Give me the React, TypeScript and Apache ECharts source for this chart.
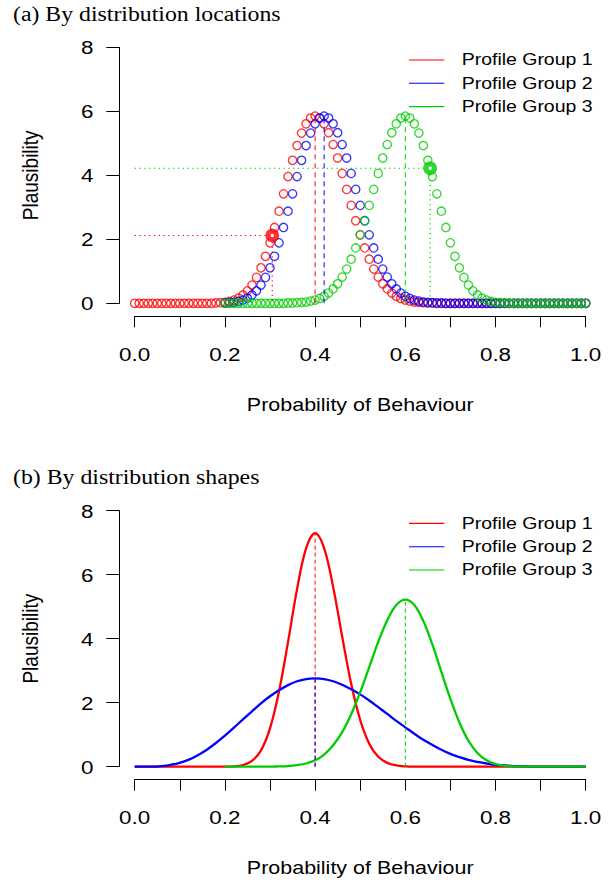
import React, { useEffect, useRef } from "react";
import * as echarts from "echarts";

const groupNames = ["Profile Group 1", "Profile Group 2", "Profile Group 3"];
const groupColors = ["#FF0000", "#0000FF", "#00CD00"];

// Panel (a): plausibility at x = 0.00, 0.01, ..., 1.00 (null = not plotted)
const locRed = [
  0, 0, 0, 0, 0, 0, 0, 0, 0, 0,
  0, 0, 0, 0, 0, 0, 0, 0, 0.01, 0.02,
  0.03, 0.06, 0.1, 0.16, 0.26, 0.39, 0.57, 0.81, 1.11, 1.47,
  1.89, 2.37, 2.88, 3.42, 3.96, 4.47, 4.93, 5.32, 5.61, 5.79,
  5.85, 5.79, 5.61, 5.33, 4.96, 4.54, 4.06, 3.56, 3.06, 2.58,
  2.14, 1.73, 1.38, 1.07, 0.82, 0.61, 0.45, 0.32, 0.22, 0.15,
  0.1, 0.07, 0.04, 0.03, 0.02, 0.01, 0.01, 0, 0, 0,
  0, 0, 0, 0, 0, 0, 0, 0, 0, 0,
  0, 0, 0, 0, 0, 0, 0, 0, 0, 0,
  0, 0, 0, 0, 0, 0, 0, 0, 0, 0,
  0,
];
const locBlue = [
  null, null, null, null, null, null, null, null, null, null,
  null, null, null, null, null, null, null, null, null, null,
  0.01, 0.02, 0.03, 0.06, 0.1, 0.16, 0.26, 0.39, 0.57, 0.81,
  1.11, 1.47, 1.89, 2.37, 2.88, 3.42, 3.96, 4.47, 4.93, 5.32,
  5.61, 5.79, 5.85, 5.79, 5.61, 5.33, 4.96, 4.54, 4.06, 3.56,
  3.06, 2.58, 2.14, 1.73, 1.38, 1.07, 0.82, 0.61, 0.45, 0.32,
  0.22, 0.15, 0.1, 0.07, 0.04, 0.03, 0.02, 0.01, 0.01, 0,
  0, 0, 0, 0, 0, 0, 0, 0, 0, 0,
  0, 0, 0, 0, 0, 0, 0, 0, 0, 0,
  0, 0, 0, 0, 0, 0, 0, 0, 0, 0,
  0,
];
const locGreen = [
  null, null, null, null, null, null, null, null, null, null,
  null, null, null, null, null, null, null, null, null, null,
  0, 0, 0, 0, 0, 0, 0, 0, 0, 0,
  0, 0, 0, 0, 0.01, 0.01, 0.02, 0.03, 0.04, 0.07,
  0.1, 0.15, 0.22, 0.32, 0.45, 0.61, 0.82, 1.07, 1.38, 1.73,
  2.14, 2.58, 3.06, 3.56, 4.06, 4.54, 4.96, 5.33, 5.61, 5.79,
  5.85, 5.79, 5.61, 5.32, 4.93, 4.47, 3.96, 3.42, 2.88, 2.37,
  1.89, 1.47, 1.11, 0.81, 0.57, 0.39, 0.26, 0.16, 0.1, 0.06,
  0.03, 0.02, 0.01, 0, 0, 0, 0, 0, 0, 0,
  0, 0, 0, 0, 0, 0, 0, 0, 0, 0,
  0,
];
const locStep = 0.01;
const locModes = [0.4, 0.42, 0.6];
const locMarkX = [0.305, 0.655];
const locMarkY = [2.12, 4.22];
const locMarkGroup = [0, 2];

// Panel (b): plausibility at x = 0.00, 0.02, ..., 1.00 (null = not plotted)
const shapeRed = [
  0, 0, 0, 0, 0, 0, 0, 0, 0, 0,
  0, 0.01, 0.05, 0.18, 0.51, 1.2, 2.35, 3.9, 5.55, 6.82,
  7.3, 6.83, 5.62, 4.07, 2.59, 1.46, 0.72, 0.31, 0.12, 0.04,
  0.01, 0, 0, 0, 0, 0, 0, 0, 0, 0,
  0, 0, 0, 0, 0, 0, 0, 0, 0, 0,
  0,
];
const shapeBlue = [
  0, 0, 0, 0.02, 0.06, 0.12, 0.22, 0.36, 0.53, 0.74,
  0.97, 1.22, 1.48, 1.73, 1.98, 2.2, 2.39, 2.55, 2.67, 2.74,
  2.76, 2.74, 2.67, 2.56, 2.42, 2.26, 2.07, 1.86, 1.65, 1.43,
  1.23, 1.03, 0.84, 0.68, 0.53, 0.4, 0.3, 0.21, 0.15, 0.1,
  0.06, 0.04, 0.02, 0.01, 0, 0, 0, 0, 0, 0,
  0,
];
const shapeGreen = [
  null, null, null, null, null, null, null, null, null, null,
  0, 0, 0, 0, 0, 0, 0.01, 0.02, 0.05, 0.1,
  0.2, 0.38, 0.67, 1.08, 1.64, 2.33, 3.11, 3.9, 4.58, 5.05,
  5.22, 5.05, 4.55, 3.82, 2.96, 2.12, 1.38, 0.81, 0.43, 0.2,
  0.08, 0.03, 0.01, 0, 0, 0, 0, 0, 0, 0,
  0,
];
const shapeStep = 0.02;
const shapeModes = [0.4, 0.4, 0.6];

const xTickLabels = ["0.0", "0.2", "0.4", "0.6", "0.8", "1.0"];
const yTickLabels = ["0", "2", "4", "6", "8"];
const panelTitles = ["(a) By distribution locations", "(b) By distribution shapes"];
const xAxisTitle = "Probability of Behaviour";
const yAxisTitle = "Plausibility";

const SANS = "'Liberation Sans', Arial, Helvetica, sans-serif";
const SERIF = "'Liberation Serif', 'Times New Roman', serif";

function toPairs(arr: (number | null)[], step: number) {
  const out: number[][] = [];
  arr.forEach((v, i) => {
    if (v !== null && v !== undefined) out.push([+(i * step).toFixed(4), v]);
  });
  return out;
}

export default function App() {
  const ref = useRef<HTMLDivElement>(null);
  useEffect(() => {
    const el = ref.current;
    if (!el) return;
    const chart = echarts.init(el, undefined, { renderer: "svg" });

    const locSeries = [locRed, locBlue, locGreen];
    const shapeSeries = [shapeRed, shapeBlue, shapeGreen];
    const series: any[] = [];

    // Panel (a) open circles
    locSeries.forEach((arr, g) => {
      series.push({
        type: "scatter",
        xAxisIndex: 0,
        yAxisIndex: 0,
        data: toPairs(arr, locStep),
        symbol: "circle",
        symbolSize: 8.3,
        clip: false,
        silent: true,
        z: 2,
        itemStyle: { color: "rgba(0,0,0,0)", borderColor: groupColors[g], borderWidth: 1.35 },
      });
    });
    // Panel (a) mode dashed lines
    locModes.forEach((m, g) => {
      const idx = Math.round(m / locStep);
      const peak = locSeries[g][idx] as number;
      series.push({
        type: "line",
        xAxisIndex: 0,
        yAxisIndex: 0,
        data: [[m, 0], [m, peak]],
        symbol: "none",
        clip: false,
        silent: true,
        z: 3,
        lineStyle: { color: groupColors[g], width: 1, type: [5, 4] },
      });
    });
    // Panel (a) dotted guides + highlighted points
    locMarkX.forEach((mx, k) => {
      const my = locMarkY[k];
      const c = groupColors[locMarkGroup[k]];
      series.push({
        type: "line",
        xAxisIndex: 0,
        yAxisIndex: 0,
        data: [[0, my], [mx, my], [mx, 0]],
        symbol: "none",
        clip: false,
        silent: true,
        z: 3,
        lineStyle: { color: c, width: 1.1, type: [1.3, 3.5] },
      });
      series.push({
        type: "scatter",
        xAxisIndex: 0,
        yAxisIndex: 0,
        data: [[mx, my]],
        symbol: "circle",
        symbolSize: 8.5,
        clip: false,
        silent: true,
        z: 5,
        itemStyle: { color: "#ffffff", borderColor: c, borderWidth: 5.2 },
      });
    });

    // Panel (b) curves
    shapeSeries.forEach((arr, g) => {
      series.push({
        type: "line",
        xAxisIndex: 1,
        yAxisIndex: 1,
        data: toPairs(arr, shapeStep),
        symbol: "none",
        smooth: 0.35,
        clip: false,
        silent: true,
        z: 2,
        lineStyle: { color: groupColors[g], width: 2.3 },
      });
    });
    shapeModes.forEach((m, g) => {
      const idx = Math.round(m / shapeStep);
      const peak = shapeSeries[g][idx] as number;
      series.push({
        type: "line",
        xAxisIndex: 1,
        yAxisIndex: 1,
        data: [[m, 0], [m, peak]],
        symbol: "none",
        clip: false,
        silent: true,
        z: 3,
        lineStyle: { color: groupColors[g], width: 1, type: [4, 3] },
      });
    });

    const grids = [
      { left: 134.7, top: 47.3, width: 451, height: 256 },
      { left: 134.7, top: 510.7, width: 451, height: 256 },
    ];

    const axisCommon = {
      type: "value",
      axisLine: { show: true, onZero: false, lineStyle: { color: "#000", width: 1 } },
      axisLabel: { show: false },
      splitLine: { show: false },
    };

    const option: any = {
      animation: false,
      backgroundColor: "#ffffff",
      grid: grids,
      xAxis: [0, 1].map((gi) => ({
        ...axisCommon,
        gridIndex: gi,
        min: 0,
        max: 1,
        interval: 0.1,
        offset: 13,
        axisTick: { show: true, inside: false, length: 11, lineStyle: { color: "#000", width: 1 } },
      })),
      yAxis: [0, 1].map((gi) => ({
        ...axisCommon,
        gridIndex: gi,
        min: 0,
        max: 8,
        interval: 2,
        offset: 15.4,
        axisTick: { show: true, inside: false, length: 13, lineStyle: { color: "#000", width: 1 } },
      })),
      series,
    };
    chart.setOption(option);

    const P = (gi: number, x: number, y: number) =>
      chart.convertToPixel({ gridIndex: gi } as any, [x, y]) as number[];

    const txt = (
      text: string,
      x: number,
      y: number,
      o: { size: number; family: string; align: string; sx?: number; sy?: number; rot?: number }
    ) => ({
      type: "text",
      x,
      y,
      scaleX: o.sx ?? 1,
      scaleY: o.sy ?? 1,
      rotation: o.rot ?? 0,
      silent: true,
      z: 10,
      style: {
        text,
        fontSize: o.size,
        fontFamily: o.family,
        fill: "#000",
        align: o.align,
        verticalAlign: "middle",
      },
    });

    const graphic: any[] = [];
    [0, 1].forEach((gi) => {
      const [x0, y0] = P(gi, 0, 0);
      xTickLabels.forEach((lab) => {
        const [px] = P(gi, parseFloat(lab), 0);
        graphic.push(txt(lab, px, y0 + 50.7, { size: 19, family: SANS, align: "center", sx: 1.18 }));
      });
      yTickLabels.forEach((lab) => {
        const [, py] = P(gi, 0, parseFloat(lab));
        graphic.push(txt(lab, x0 - 41.3, py, { size: 19, family: SANS, align: "right", sx: 1.18 }));
      });
      const [cx] = P(gi, 0.5, 0);
      graphic.push(txt(xAxisTitle, cx, y0 + 100.8, { size: 19, family: SANS, align: "center", sx: 1.13 }));
      const [, cy] = P(gi, 0, 4);
      graphic.push(
        txt(yAxisTitle, x0 - 104.8, cy, { size: 19, family: SANS, align: "center", sy: 1.15, rot: Math.PI / 2 })
      );
      graphic.push(txt(panelTitles[gi], 13, y0 - 289.3, { size: 20, family: SERIF, align: "left", sx: 1.19 }));
      groupNames.forEach((name, g) => {
        const ly = y0 - 243.3 + g * 23.3;
        graphic.push({
          type: "line",
          silent: true,
          z: 10,
          shape: { x1: x0 + 274.3, y1: ly, x2: x0 + 309.6, y2: ly },
          style: { stroke: groupColors[g], lineWidth: 1.1 },
        });
        graphic.push(txt(name, x0 + 327, ly, { size: 16.5, family: SANS, align: "left", sx: 1.18 }));
      });
    });
    chart.setOption({ graphic });

    return () => chart.dispose();
  }, []);

  return <div ref={ref} style={{ position: "absolute", left: 0, top: 0, width: 613, height: 884 }} />;
}
